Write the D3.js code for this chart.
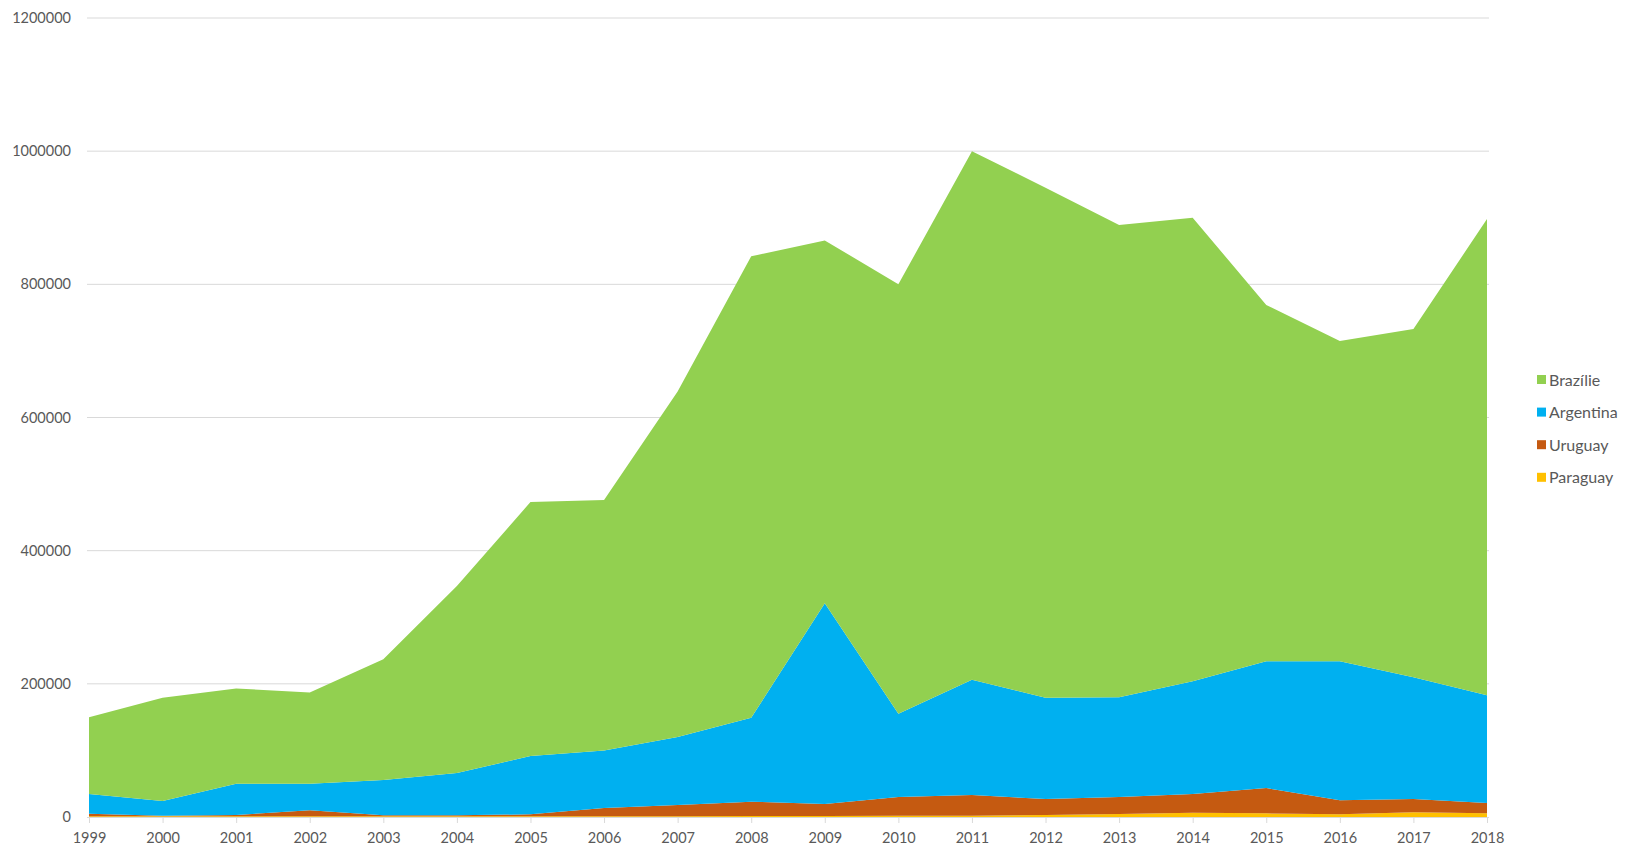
<!DOCTYPE html>
<html>
<head>
<meta charset="utf-8">
<script src="https://cdn.jsdelivr.net/npm/d3@7"></script>
<style>
  html, body { margin: 0; padding: 0; background: #ffffff; }
  svg { display: block; }
</style>
</head>
<body>
<svg id="chart" width="1634" height="850"></svg>
<script>
const years = ["1999","2000","2001","2002","2003","2004","2005","2006","2007","2008","2009","2010","2011","2012","2013","2014","2015","2016","2017","2018"];
const paraguay  = [1000,1000,1000,1000,1000,1000,1000,1000,1000,1500,1500,2000,2000,3000,4500,6500,5500,4000,7000,5500];
const uruguay   = [4000,1000,2000,9000,1500,1500,3000,12500,17000,21500,18000,28000,31000,24000,25500,28000,38000,21000,20000,15500];
const argentina = [29500,22000,47000,40000,53000,63500,87500,86500,102000,126000,301500,125000,173000,152000,150000,169500,190500,209000,183000,162000];
const brazilie  = [115500,155000,143000,137000,181500,281000,381500,376000,519000,693000,545000,645000,794000,766000,709000,696000,535000,481000,523000,715000];
const seriesNames = ["Paraguay","Uruguay","Argentina","Brazílie"];
const seriesColors = ["#ffc000","#c55a11","#00b0f0","#92d050"];
const yTicks = [0,200000,400000,600000,800000,1000000,1200000];
const legendOrder = ["Brazílie","Argentina","Uruguay","Paraguay"];

const rows = years.map((y,i) => ({year:y, "Paraguay":paraguay[i], "Uruguay":uruguay[i], "Argentina":argentina[i], "Brazílie":brazilie[i]}));

const svg = d3.select("#chart");
const x0 = 89, x1 = 1487, yBottom = 817, yTop = 18;
const x = d3.scalePoint().domain(years).range([x0, x1]);
const y = d3.scaleLinear().domain([0, 1200000]).range([yBottom, yTop]);
const color = d3.scaleOrdinal().domain(seriesNames).range(seriesColors);
const font = "Lato, 'Open Sans', sans-serif";
const textColor = "#595959";

// gridlines
svg.append("g").selectAll("line").data(yTicks.filter(d => d > 0)).join("line")
  .attr("x1", x0 - 2).attr("x2", x1 + 2)
  .attr("y1", d => y(d)).attr("y2", d => y(d))
  .attr("stroke", "#d9d9d9").attr("stroke-width", 1);

// stacked areas
const stack = d3.stack().keys(seriesNames);
const layers = stack(rows);
const area = d3.area()
  .x(d => x(d.data.year))
  .y0(d => y(d[0]))
  .y1(d => y(d[1]));
svg.append("g").selectAll("path").data(layers).join("path")
  .attr("d", area)
  .attr("fill", d => color(d.key));

// x axis
const xAxis = d3.axisBottom(x).tickSize(6).tickPadding(10);
const gx = svg.append("g").attr("transform", `translate(0,${yBottom})`).call(xAxis);
gx.select(".domain").attr("stroke", "#d9d9d9").attr("d", `M${x0 - 2},0.5H${x1 + 2}`);
gx.selectAll(".tick line").attr("stroke", "#d9d9d9");
gx.selectAll(".tick text").attr("fill", textColor).attr("font-family", font).attr("font-size", "14.5px");

// y axis labels
const yAxis = d3.axisLeft(y).tickValues(yTicks).tickFormat(d3.format("d")).tickSize(0).tickPadding(18);
const gy = svg.append("g").attr("transform", `translate(${x0},0)`).call(yAxis);
gy.select(".domain").remove();
gy.selectAll(".tick text").attr("fill", textColor).attr("font-family", font).attr("font-size", "14.5px");

// legend
const lg = svg.append("g").attr("transform", "translate(1537,380)");
const li = lg.selectAll("g").data(legendOrder).join("g")
  .attr("transform", (d,i) => `translate(0,${i * 32.6})`);
li.append("rect").attr("x", 0).attr("y", -5).attr("width", 9).attr("height", 9).attr("fill", d => color(d));
li.append("text").attr("x", 12).attr("y", 0).attr("dy", "0.35em")
  .attr("fill", textColor).attr("font-family", font).attr("font-size", "16px")
  .text(d => d);
</script>
</body>
</html>
